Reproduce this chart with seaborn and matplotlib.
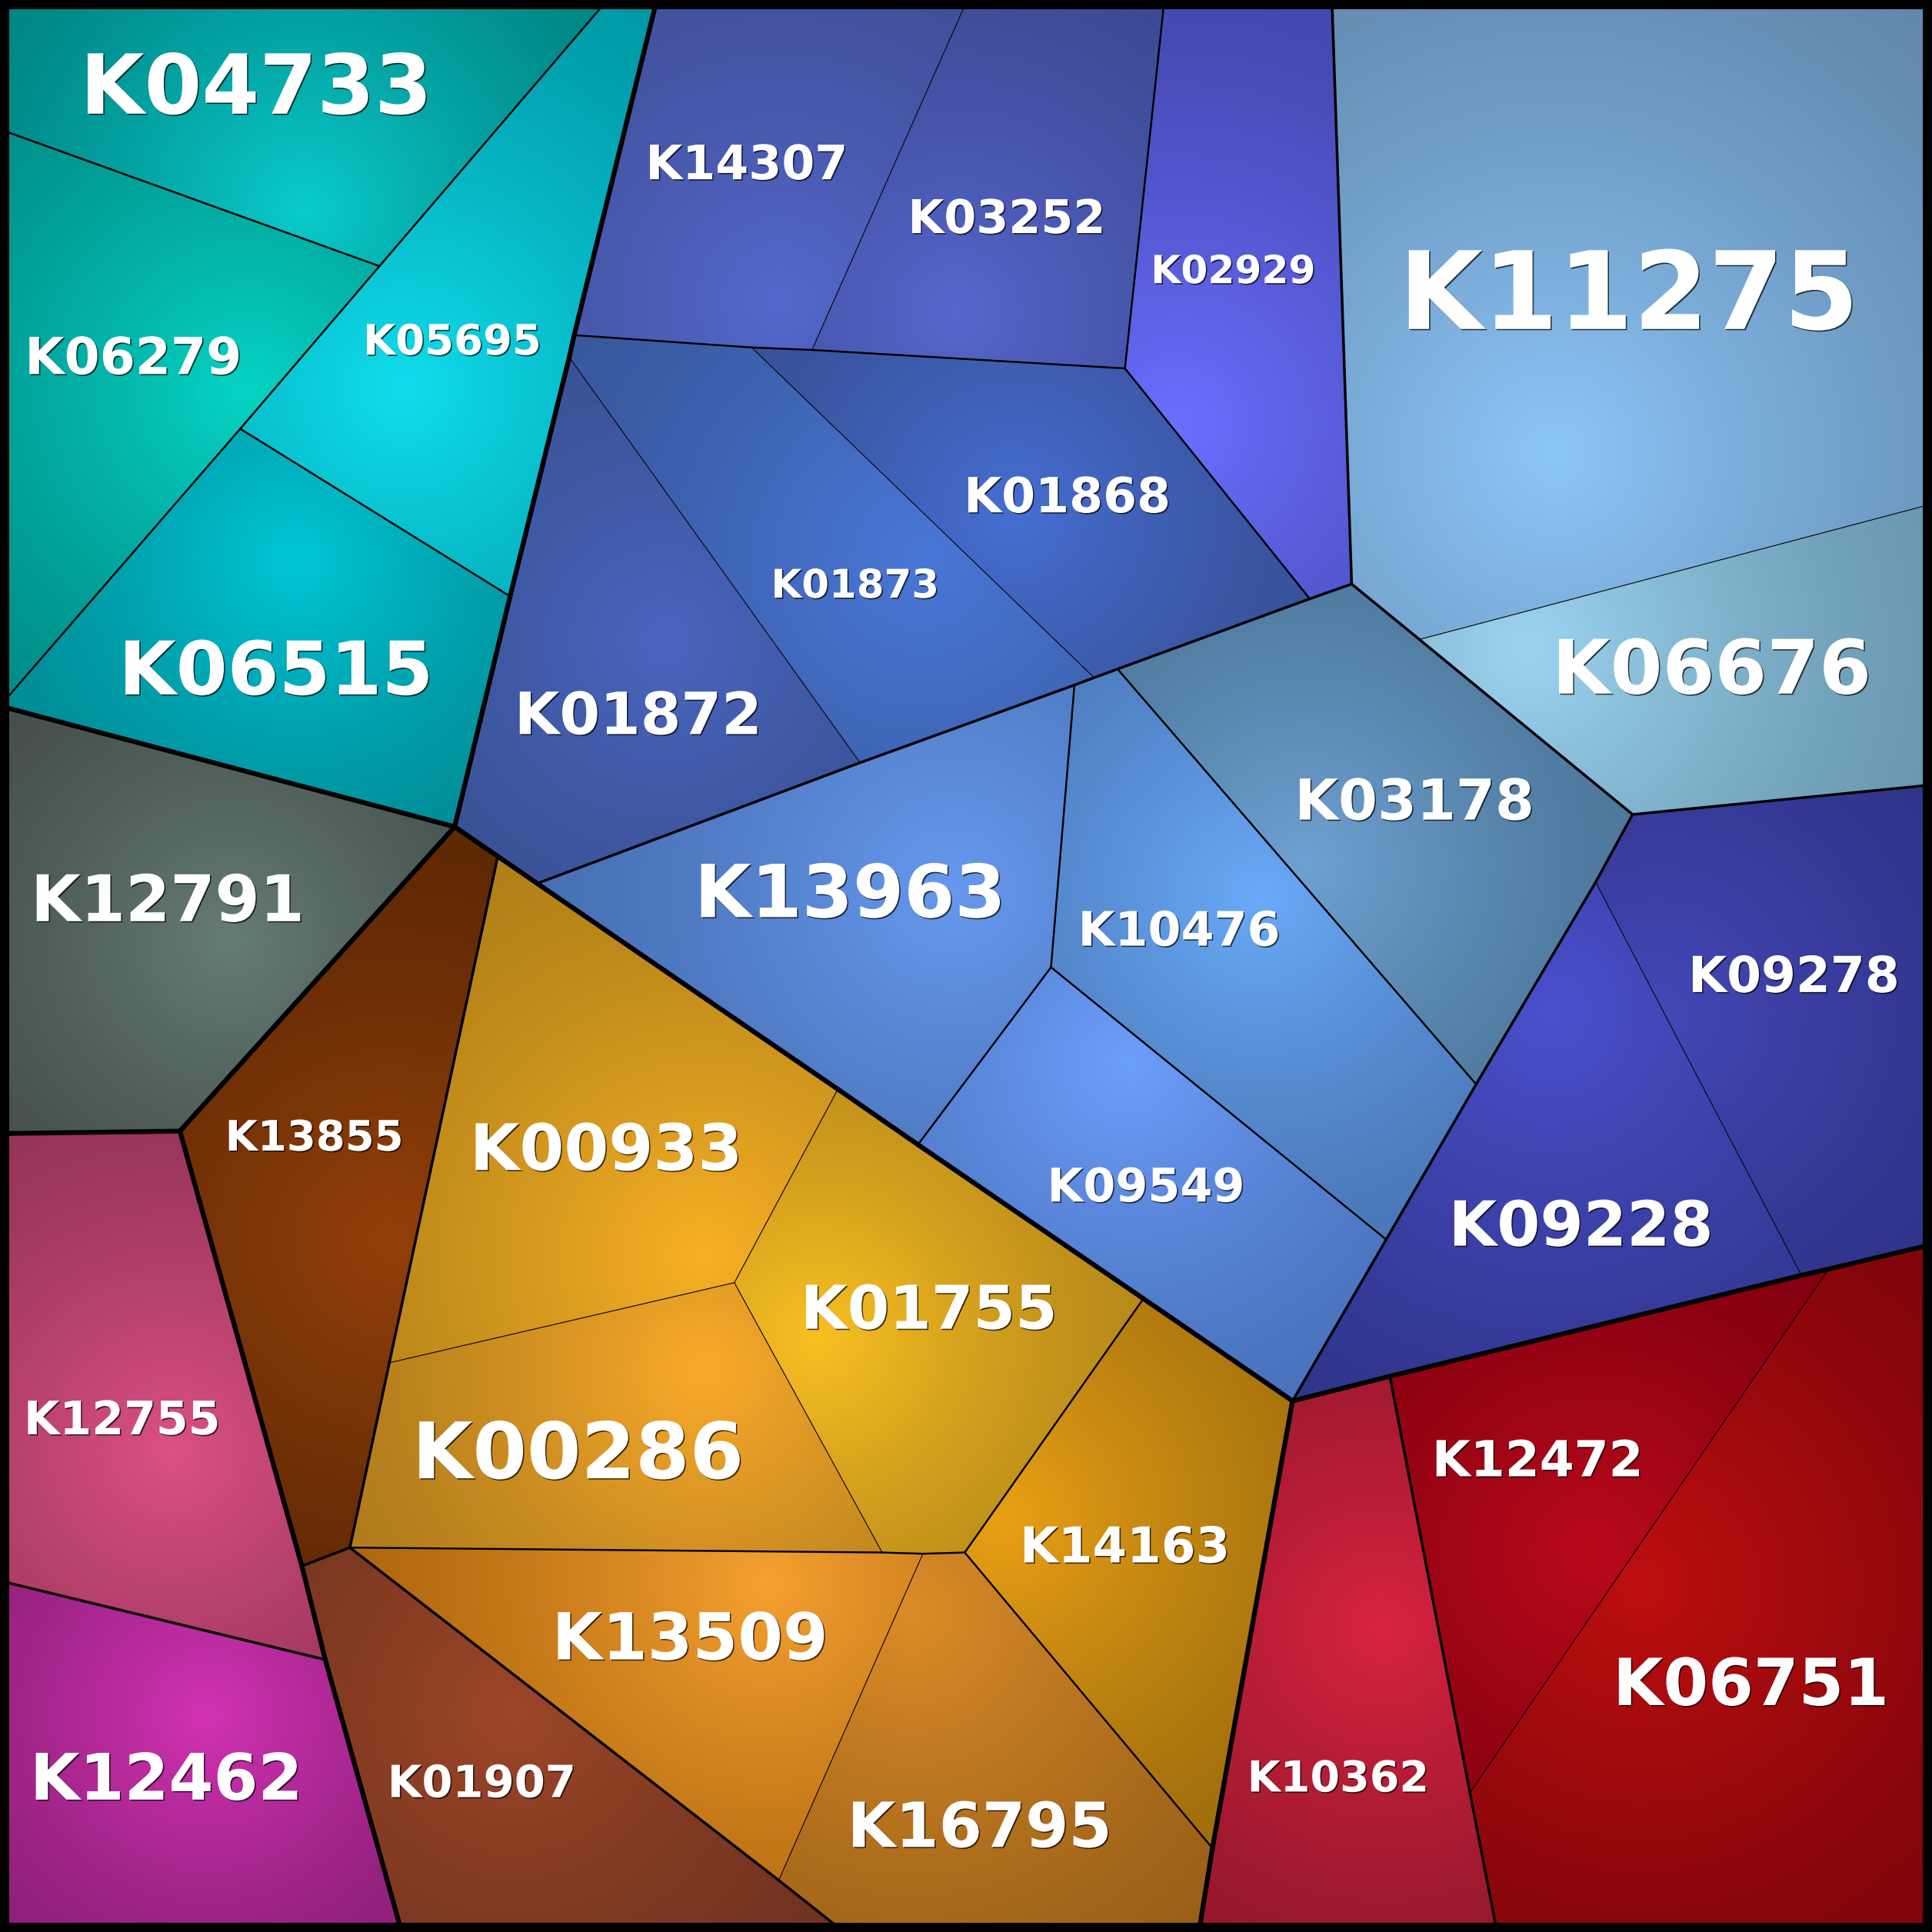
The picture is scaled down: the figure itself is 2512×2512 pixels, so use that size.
import numpy as np
import matplotlib
matplotlib.use("Agg")
import matplotlib.pyplot as plt
import matplotlib.patheffects as pe
from matplotlib.patches import Polygon, Rectangle
from matplotlib.collections import LineCollection
import seaborn as sns

# KEGG orthologs shown in the voronoi treemap
names = ["K04733", "K06279", "K05695", "K06515",
         "K14307", "K03252", "K02929", "K01868", "K01873", "K01872",
         "K13963", "K10476", "K09549", "K03178",
         "K11275", "K06676", "K09278", "K09228",
         "K12791", "K13855", "K00933", "K01755", "K00286", "K14163",
         "K13509", "K16795", "K01907", "K12755", "K12462",
         "K10362", "K12472", "K06751"]

# hierarchy of each cell: (top group, sub group, leaf group)
groups = [("teal", "t", "a"), ("teal", "t", "b"), ("teal", "t", "c"), ("teal", "t", "d"),
          ("blue", "A", "a1"), ("blue", "A", "a1"), ("blue", "A", "a2"),
          ("blue", "A", "a3"), ("blue", "A", "a3"), ("blue", "A", "a3"),
          ("blue", "B", "b1"), ("blue", "B", "b2"), ("blue", "B", "b3"), ("blue", "B", "b4"),
          ("blue", "C", "c1"), ("blue", "C", "c1"), ("blue", "D", "d1"), ("blue", "D", "d1"),
          ("gray", "g", "g1"), ("orange", "O2", "x"), ("orange", "O1", "a"),
          ("orange", "O1", "a"), ("orange", "O1", "a"), ("orange", "O1", "b"),
          ("orange", "O1", "c"), ("orange", "O1", "c"), ("orange", "O3", "x"),
          ("pink", "p1", "x"), ("pink", "p2", "x"),
          ("red", "r1", "x"), ("red", "r2", "x"), ("red", "r2", "x")]

# colour at the bright focus of each cell and at its rim
light = ["#0ACBCB", "#06D4C4", "#10DDEC", "#00C6D6",
         "#5468CC", "#5666CC", "#6A6EFF", "#466ED2", "#4A78D8", "#4A66C0",
         "#6699EE", "#6AAAF8", "#6C9EFC", "#6EA2D2",
         "#8CC6F8", "#9CD4F0", "#4448B8", "#4A50CC",
         "#667C76", "#94400A", "#F8B025", "#FAC022", "#FAAA2A", "#EAA015",
         "#F5A030", "#DC8C28", "#9C4628", "#DC5085", "#D232B4",
         "#D82340", "#BA0A1A", "#BE0F10"]
dark = ["#008585", "#008C88", "#0098A6", "#008C96",
        "#41509B", "#3C4A94", "#4448B0", "#38529A", "#38589E", "#3A5296",
        "#4870B4", "#4A78B8", "#4A72BC", "#4E789C",
        "#6288AC", "#6A98B0", "#30348A", "#30358C",
        "#454F4C", "#5E2804", "#B08018", "#B88A1A", "#B07C1C", "#A06E0E",
        "#B0680F", "#9A6018", "#70321E", "#963458", "#8E2078",
        "#96182C", "#820010", "#80050A"]
focus = [(247, 170), (200, 318), (327, 314), (240, 454),
         (633, 244), (776, 253), (956, 344), (823, 417), (749, 454), (540, 520),
         (773, 723), (1023, 729), (916, 863), (1060, 700),
         (1262, 368), (1240, 525), (1345, 823), (1258, 822),
         (187, 763), (317, 1007), (572, 1019), (663, 1085), (572, 1112), (813, 1232),
         (622, 1285), (739, 1308), (417, 1389), (140, 1177), (167, 1392),
         (1122, 1322), (1292, 1258), (1332, 1285)]

# label centre and font size
label_xy = [(208, 67), (108, 288), (367, 275), (224, 541),
            (606, 131), (817, 175), (1001, 218), (866, 401), (694, 473), (518, 578),
            (690, 722), (957, 753), (930, 961), (1148, 648),
            (1322, 234), (1389, 540), (1456, 790), (1283, 992),
            (136, 728), (255, 921), (492, 930), (754, 1060), (469, 1176), (913, 1253),
            (560, 1327), (795, 1480), (391, 1445), (99, 1150), (135, 1441),
            (1086, 1441), (1248, 1183), (1421, 1364)]
label_size = [31, 19.1, 15.7, 27.7,
              17.8, 17.4, 14.5, 18.2, 14.8, 21.8,
              27.4, 17.8, 17.4, 21.1,
              40.5, 28.1, 18.6, 23.3,
              24.1, 15.7, 24, 22.6, 29.2, 18.5,
              24.3, 23.3, 16.6, 17.3, 24,
              16, 18.6, 24.3]

# layout of the treemap: shared corners and the corners of every cell
corners = {
    "tl": (0, 0), "tr": (1568, 0), "br": (1568, 1568), "bl": (0, 1568),
    "t1": (493, 0), "t2": (533, 0), "t3": (785, 0), "t4": (945, 0), "t5": (1081, 0),
    "l1": (0, 105), "l2": (0, 573), "l3": (0, 920), "l4": (0, 1283),
    "r1": (1568, 409), "r2": (1568, 637), "r3": (1568, 1010),
    "b1": (326, 1568), "b2": (685, 1568), "b3": (973, 1568), "b4": (1215, 1568),
    "a": (308, 216), "b": (195, 348), "c": (414, 484), "d": (466, 272),
    "e": (462, 290), "f": (369, 671), "g": (610, 282), "h": (659, 284),
    "i": (913, 299), "j": (1063, 486), "k": (1097, 474), "m": (888, 550),
    "n": (872, 556), "o": (907, 543), "p": (698, 619), "q": (436, 717),
    "r": (404, 695), "s": (853, 785), "t": (745, 929), "u": (680, 884),
    "v": (928, 1054), "w": (1049, 1137), "x": (1125, 1006), "y": (1198, 880),
    "z": (1295, 716), "A1": (1325, 661), "B1": (1152, 519), "C1": (1462, 1035),
    "D1": (1484, 1030), "E1": (1128, 1117), "F1": (1193, 1455), "G1": (984, 1500),
    "H1": (783, 1260), "I1": (749, 1261), "J1": (716, 1260), "K1": (596, 1041),
    "L1": (316, 1106), "M1": (284, 1256), "N1": (245, 1271), "O1": (632, 1526),
    "P1": (146, 918), "Q1": (264, 1347),
}
cells = [
    ["tl", "t1", "a", "l1"],
    ["l1", "a", "b", "l2"],
    ["t1", "t2", "d", "e", "c", "b", "a"],
    ["b", "c", "f", "l2"],
    ["t2", "t3", "h", "g", "d"],
    ["t3", "t4", "i", "h"],
    ["t4", "t5", "k", "j", "i"],
    ["g", "h", "i", "j", "o", "m"],
    ["d", "g", "m", "n", "p", "e"],
    ["e", "p", "q", "r", "f", "c"],
    ["q", "p", "n", "s", "t", "u"],
    ["n", "m", "o", "y", "x", "s"],
    ["s", "x", "w", "v", "t"],
    ["k", "B1", "A1", "z", "y", "o", "j"],
    ["t5", "tr", "r1", "B1", "k"],
    ["B1", "r1", "r2", "A1"],
    ["A1", "r2", "r3", "D1", "C1", "z"],
    ["z", "C1", "E1", "w", "x", "y"],
    ["l2", "f", "P1", "l3"],
    ["f", "r", "L1", "M1", "N1", "P1"],
    ["r", "q", "u", "K1", "L1"],
    ["u", "t", "v", "H1", "I1", "J1", "K1"],
    ["L1", "K1", "J1", "M1"],
    ["v", "w", "G1", "H1"],
    ["M1", "J1", "I1", "O1"],
    ["I1", "H1", "G1", "b3", "b2", "O1"],
    ["N1", "M1", "O1", "b2", "b1", "Q1"],
    ["l3", "P1", "N1", "Q1", "l4"],
    ["l4", "Q1", "b1", "bl"],
    ["w", "E1", "F1", "b4", "b3", "G1"],
    ["E1", "C1", "D1", "F1"],
    ["D1", "r3", "br", "b4", "F1"],
]

sns.set_theme(style="white")
plt.rcParams["font.family"] = ["DejaVu Sans"]

S = 1568
fig = plt.figure(figsize=(2512 / 250, 2512 / 250), dpi=250)
ax = fig.add_axes([0, 0, 1, 1])

# radial shading of every cell, clipped to its polygon
for k in range(len(names)):
    pts = np.array([corners[c] for c in cells[k]], float)
    x0, y0 = np.floor(pts.min(0)).astype(int)
    x1, y1 = np.ceil(pts.max(0)).astype(int)
    X, Y = np.meshgrid(np.arange(x0, x1 + 1), np.arange(y0, y1 + 1))
    fx, fy = focus[k]
    R = np.hypot(pts[:, 0] - fx, pts[:, 1] - fy).max()
    shade = np.clip(1 - np.hypot(X - fx, Y - fy) / R, 0, 1) ** 1.3
    cmap = sns.blend_palette([dark[k], light[k]], as_cmap=True)
    clip = Polygon(pts, closed=True, facecolor="none", edgecolor="none")
    ax.add_patch(clip)
    im = ax.imshow(shade, cmap=cmap, vmin=0, vmax=1, interpolation="bilinear",
                   extent=(x0 - 0.5, x1 + 0.5, y1 + 0.5, y0 - 0.5), zorder=1)
    im.set_clip_path(clip)

# cell borders, thicker the higher up the hierarchy they split
edge_cells = {}
for k, cell in enumerate(cells):
    for a, b in zip(cell, cell[1:] + cell[:1]):
        edge_cells.setdefault(frozenset((a, b)), []).append(k)

widths = [1.8, 1.0, 0.7, 0.32]
segs = {lvl: [] for lvl in range(4)}
for e, ks in edge_cells.items():
    a, b = tuple(e)
    if len(ks) == 1:
        lvl = 0
    else:
        g1, g2 = groups[ks[0]], groups[ks[1]]
        lvl = 0
        while lvl < 3 and g1[lvl] == g2[lvl]:
            lvl += 1
    segs[lvl].append([corners[a], corners[b]])

for lvl in [3, 2, 1, 0]:
    lc = LineCollection(segs[lvl], colors="black", linewidths=widths[lvl],
                        capstyle="round", zorder=2 + (3 - lvl) * 0.1)
    ax.add_collection(lc)

ax.add_patch(Rectangle((0, 0), S, S, fill=False, edgecolor="black",
                       linewidth=6.9, zorder=4, clip_on=False))

shadow = [pe.SimplePatchShadow(offset=(0.45, -0.45), shadow_rgbFace="black", alpha=0.7),
          pe.Normal()]
for k, name in enumerate(names):
    x, y = label_xy[k]
    fs = label_size[k]
    ax.text(x, y + fs * 0.815, name, ha="center", va="baseline", fontsize=fs,
            fontweight="bold", color="white", path_effects=shadow, zorder=5)

ax.set_xlim(0, S)
ax.set_ylim(S, 0)
ax.set_aspect("auto")
ax.axis("off")
fig.savefig("out.png", dpi=250)
